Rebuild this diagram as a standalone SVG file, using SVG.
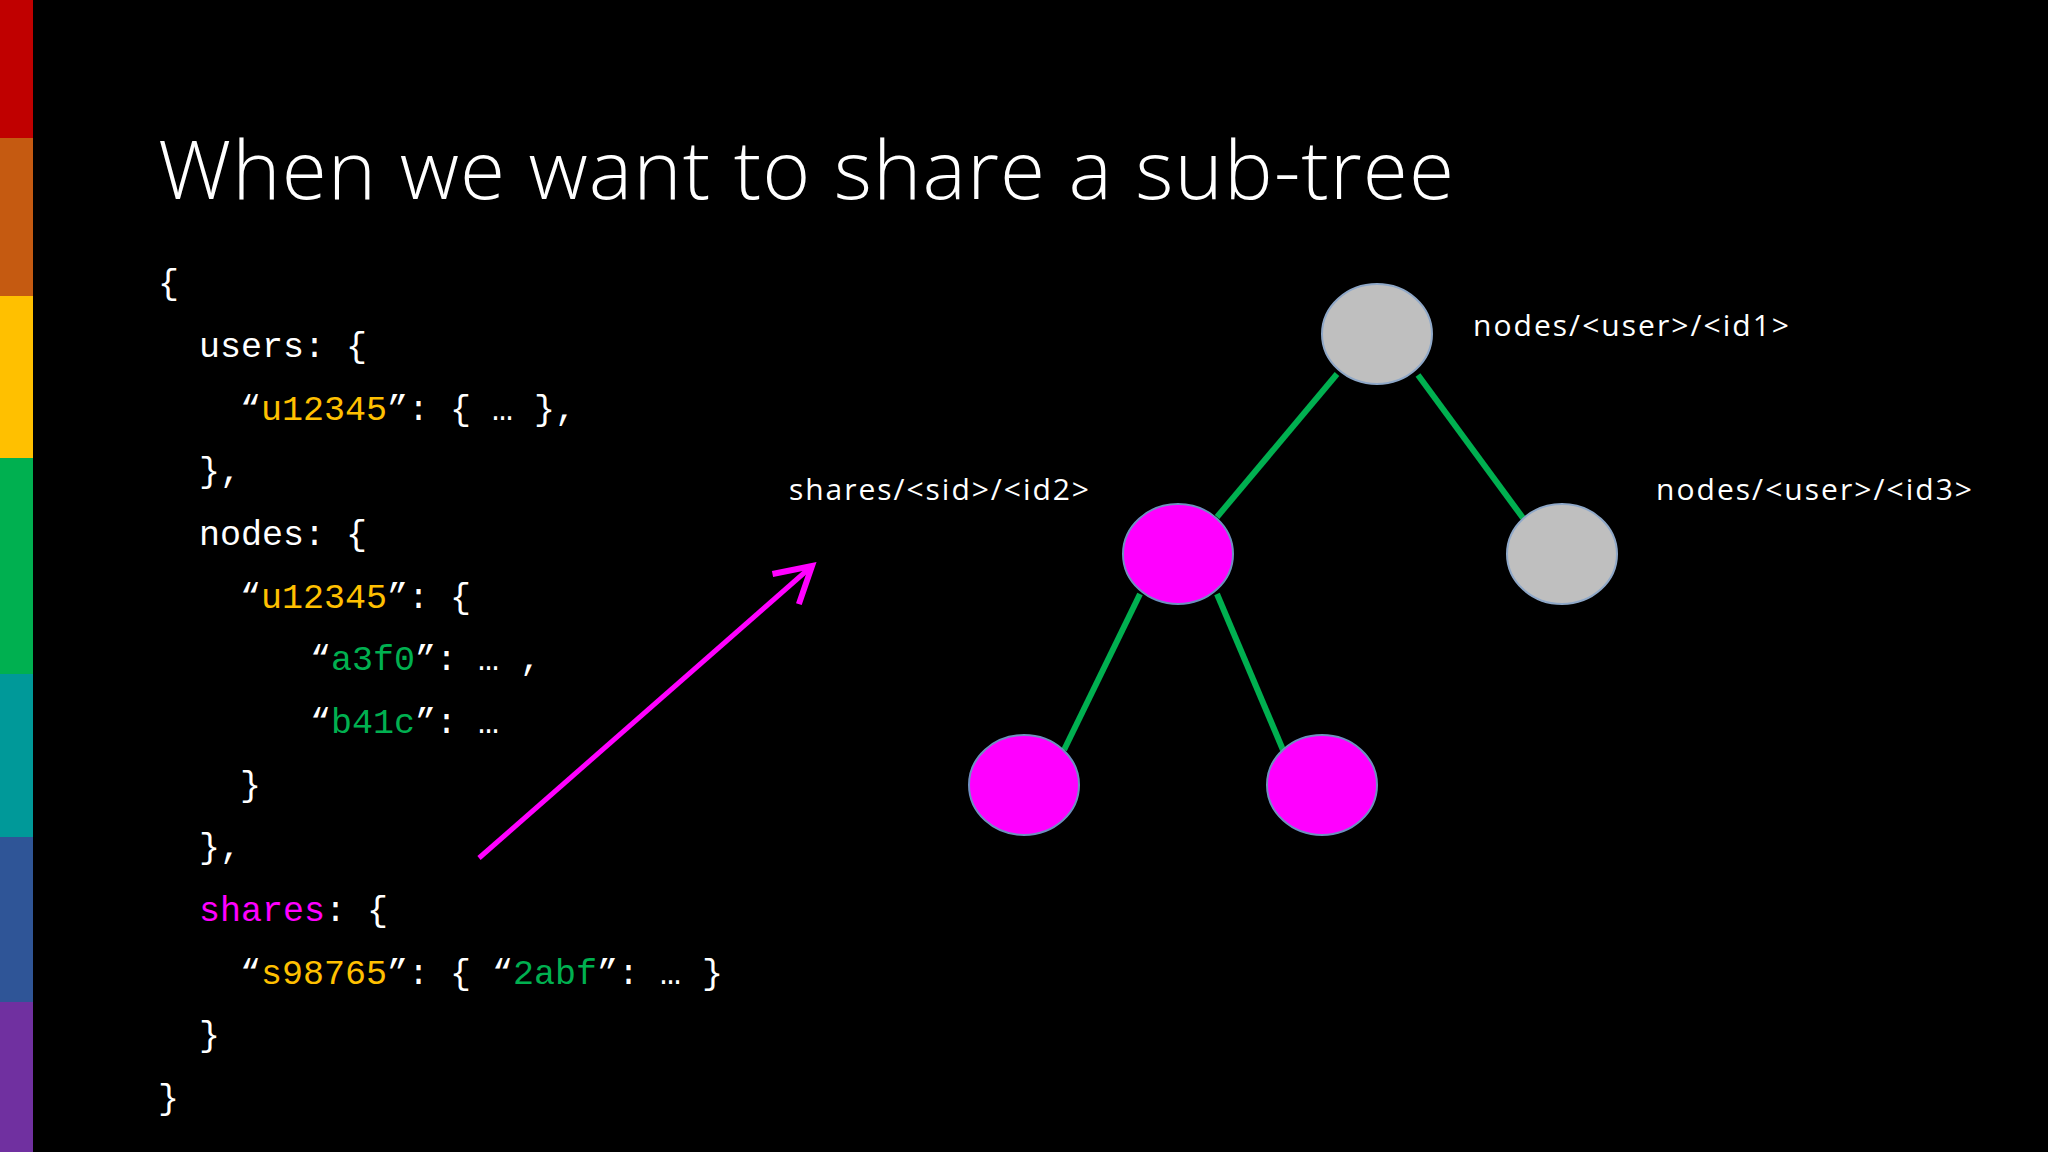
<svg xmlns="http://www.w3.org/2000/svg" width="2048" height="1152" viewBox="0 0 2048 1152">
<defs>
<style>
.code{font-family:"Liberation Mono",monospace;font-size:35px;fill:#fff}
.y{fill:#FFC000}.g{fill:#00B050}.m{fill:#FF00FF}
.lbl{font-family:"Open Sans","Liberation Sans",sans-serif;font-size:30px;fill:#fff}
.edge{stroke:#00B050;stroke-width:6}
.gray{fill:#BFBFBF;stroke:#8FA8C8;stroke-width:2}
.mag{fill:#FF00FF;stroke:#6F8FC0;stroke-width:2}
</style>
<marker id="ah" markerWidth="10" markerHeight="10" refX="8" refY="5" orient="auto" markerUnits="strokeWidth"><path d="M1,1 L8,5 L1,9" fill="none" stroke="#FF00FF" stroke-width="1.2"/></marker>
</defs>
<rect width="2048" height="1152" fill="#000"/>
<rect x="0" y="0" width="33" height="138" fill="#C00000"/>
<rect x="0" y="138" width="33" height="158" fill="#C55A11"/>
<rect x="0" y="296" width="33" height="162" fill="#FFC000"/>
<rect x="0" y="458" width="33" height="216" fill="#00B050"/>
<rect x="0" y="674" width="33" height="163" fill="#009999"/>
<rect x="0" y="837" width="33" height="165" fill="#2F5597"/>
<rect x="0" y="1002" width="33" height="150" fill="#7030A0"/>
<text x="158" y="199" font-family="Open Sans,Liberation Sans,sans-serif" font-size="82" font-weight="300" fill="#fff" textLength="1296">When we want to share a sub-tree</text>
<g id="code" class="code">
<text x="158" y="294">{</text>
<text x="199" y="357">users: {</text>
<text x="240" y="420">“<tspan class="y">u12345</tspan>”: { … },</text>
<text x="199" y="482">},</text>
<text x="199" y="545">nodes: {</text>
<text x="240" y="608">“<tspan class="y">u12345</tspan>”: {</text>
<text x="310" y="670">“<tspan class="g">a3f0</tspan>”: … ,</text>
<text x="310" y="733">“<tspan class="g">b41c</tspan>”: …</text>
<text x="240" y="796">}</text>
<text x="199" y="858">},</text>
<text x="199" y="921"><tspan class="m">shares</tspan>: {</text>
<text x="240" y="984">“<tspan class="y">s98765</tspan>”: { “<tspan class="g">2abf</tspan>”: … }</text>
<text x="199" y="1046">}</text>
<text x="158" y="1109">}</text>
</g>
<g id="connectors">
<line class="edge" x1="1337" y1="374" x2="1217" y2="517"/>
<line class="edge" x1="1418" y1="375" x2="1523" y2="518"/>
<line class="edge" x1="1140" y1="594" x2="1064" y2="750"/>
<line class="edge" x1="1217" y1="594" x2="1283" y2="750"/>
<line x1="479" y1="858" x2="812" y2="566" stroke="#FF00FF" stroke-width="5" marker-end="url(#ah)"/>
</g>
<g id="n1"><ellipse class="gray" cx="1377" cy="334" rx="55" ry="50"/><text class="lbl" x="1473" y="336" textLength="316">nodes/&lt;user&gt;/&lt;id1&gt;</text></g>
<g id="n2"><ellipse class="mag" cx="1178" cy="554" rx="55" ry="50"/><text class="lbl m" x="789" y="500" textLength="300">shares/&lt;sid&gt;/&lt;id2&gt;</text></g>
<g id="n3"><ellipse class="gray" cx="1562" cy="554" rx="55" ry="50"/><text class="lbl" x="1656" y="500" textLength="316">nodes/&lt;user&gt;/&lt;id3&gt;</text></g>
<g id="n4"><ellipse class="mag" cx="1024" cy="785" rx="55" ry="50"/></g>
<g id="n5"><ellipse class="mag" cx="1322" cy="785" rx="55" ry="50"/></g>
</svg>
